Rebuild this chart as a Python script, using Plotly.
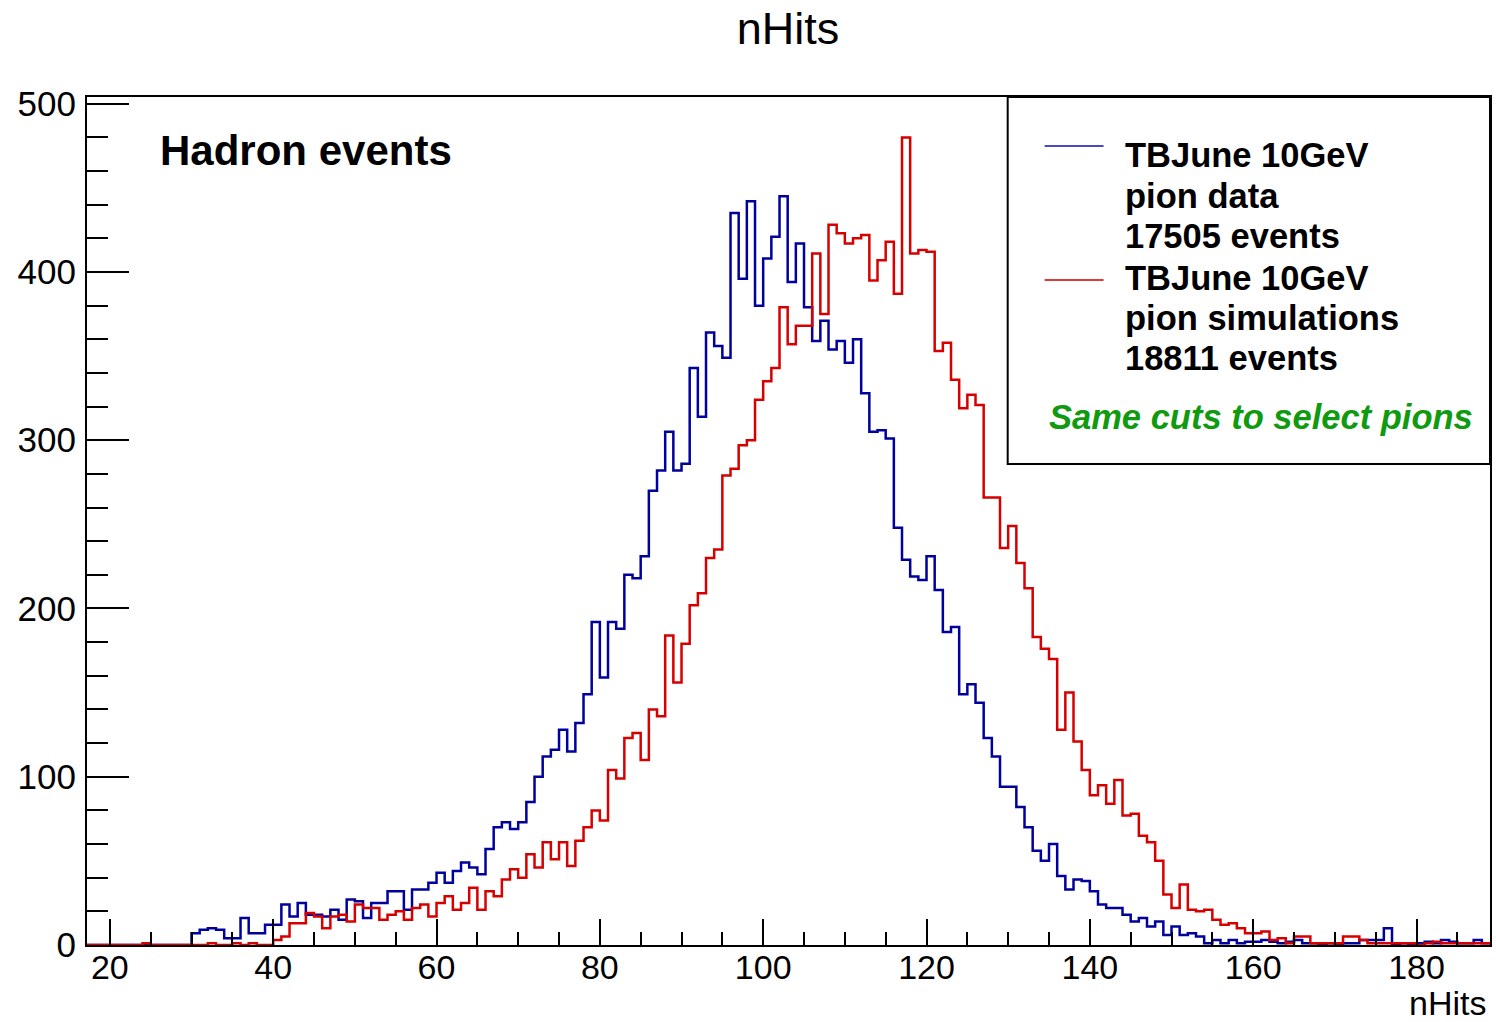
import plotly.graph_objects as go

# ---------------- data (1 nHits per bin, lower edges 17..188) ----------------
bin_lower_edges = list(range(17, 189))
bin_width = 1

blue_counts = (
    [0] * 13 +                                            # 17-29
    [7, 9, 10, 9, 4, 4, 16, 7, 7, 12] +                   # 30-39
    [12, 24, 17, 25, 18, 18, 17, 21, 15, 27] +            # 40-49
    [26, 16, 25, 25, 32, 32, 21, 33, 33, 37] +            # 50-59
    [43, 37, 44, 49, 46, 42, 57, 70, 73, 69] +            # 60-69
    [73, 85, 100, 112, 116, 128, 115, 132, 149, 192] +    # 70-79
    [159, 192, 188, 220, 218, 231, 270, 282, 305, 282] +  # 80-89
    [286, 343, 314, 364, 356, 349, 435, 396, 442, 380] +  # 90-99
    [408, 421, 445, 394, 417, 379, 359, 371, 354, 359] +  # 100-109
    [346, 360, 328, 305, 306, 301, 248, 229, 219, 217] +  # 110-119
    [231, 211, 186, 189, 149, 155, 144, 123, 112, 94] +   # 120-129
    [94, 82, 70, 56, 50, 60, 41, 33, 39, 38] +            # 130-139
    [32, 24, 22, 22, 18, 14, 16, 11, 14, 6] +             # 140-149
    [11, 6, 7, 5, 1, 3, 1, 3, 1, 2] +                     # 150-159
    [2, 3, 2, 1, 2, 3, 1, 1, 0, 1] +                      # 160-169
    [0, 1, 1, 3, 3, 3, 10, 0, 1, 0] +                     # 170-179
    [1, 2, 1, 3, 2, 1, 1, 3, 1]                           # 180-188
)

red_counts = (
    [0, 0, 0] +                                           # 17-19
    [0, 0, 0, 0, 1, 0, 0, 0, 0, 0] +                      # 20-29
    [0, 0, 1, 0, 0, 1, 0, 1, 0, 0] +                      # 30-39
    [3, 5, 13, 13, 19, 17, 10, 17, 18, 14] +              # 40-49
    [24, 22, 22, 15, 18, 20, 15, 22, 24, 17] +            # 50-59
    [25, 29, 21, 25, 34, 21, 32, 29, 39, 45] +            # 60-69
    [40, 54, 46, 61, 51, 61, 47, 62, 70, 80] +            # 70-79
    [74, 104, 99, 123, 126, 110, 140, 136, 184, 156] +    # 80-89
    [179, 202, 209, 230, 235, 279, 283, 297, 300, 324] +  # 90-99
    [335, 343, 379, 357, 368, 368, 411, 375, 428, 423] +  # 100-109
    [417, 420, 422, 395, 407, 418, 387, 480, 411, 413] +  # 110-119
    [412, 353, 358, 336, 319, 327, 321, 266, 266, 236] +  # 120-129
    [249, 227, 212, 183, 176, 170, 128, 150, 121, 104] +  # 130-139
    [89, 95, 84, 98, 77, 78, 65, 61, 50, 30] +            # 140-149
    [22, 36, 21, 20, 21, 15, 12, 13, 10, 7] +             # 150-159
    [7, 8, 3, 4, 1, 5, 5, 1, 1, 1] +                      # 160-169
    [1, 5, 5, 3, 1, 1, 1, 1, 1, 1] +                      # 170-179
    [0, 1, 2, 1, 1, 1, 1, 1, 1]                           # 180-188
)

x_tick_values = [20, 40, 60, 80, 100, 120, 140, 160, 180]
y_tick_values = [0, 100, 200, 300, 400, 500]
x_range = [17.2, 189.0]
y_range = [0, 504]

legend_blue_lines = ["TBJune 10GeV", "pion data", "17505 events"]
legend_red_lines = ["TBJune 10GeV", "pion simulations", "18811 events"]
cuts_note = "Same cuts to select pions"
plot_label = "Hadron events"

BLUE = "#00009c"
RED = "#d60000"
GREEN = "#109a10"
FONT = "Liberation Sans, Arial, Helvetica, sans-serif"

# step outline
edges = bin_lower_edges + [bin_lower_edges[-1] + bin_width]


def step_y(vals):
    return list(vals) + [vals[-1]]


fig = go.Figure()
fig.add_trace(go.Scatter(x=edges, y=step_y(blue_counts), mode="lines",
                         line=dict(color=BLUE, width=2.5, shape="hv"),
                         showlegend=False, hoverinfo="skip"))
fig.add_trace(go.Scatter(x=edges, y=step_y(red_counts), mode="lines",
                         line=dict(color=RED, width=2.5, shape="hv"),
                         showlegend=False, hoverinfo="skip"))

# ---------------- layout ----------------
L, R, T, B = 87, 4, 97, 77
W, H = 1496, 1022
pw, ph = W - L - R, H - T - B


def px_x(p):  # pixel -> paper x
    return (p - L) / pw


def px_y(p):  # pixel -> paper y
    return (H - B - p) / ph


fig.update_layout(
    width=W, height=H,
    margin=dict(l=L, r=R, t=T, b=B),
    paper_bgcolor="white", plot_bgcolor="white",
    font=dict(family=FONT, color="black", size=35),
    title=dict(text="nHits", x=788 / W, xanchor="center",
               y=1 - 28 / H, yanchor="middle",
               font=dict(family=FONT, size=45, color="black")),
    xaxis=dict(range=x_range, showgrid=False, zeroline=False,
               showline=True, linecolor="black", linewidth=2, mirror=True,
               tickmode="array", tickvals=x_tick_values,
               ticks="inside", ticklen=26, tickwidth=2, tickcolor="black",
               ticklabelstandoff=-9,
               tickfont=dict(family=FONT, size=34, color="black"),
               minor=dict(tickmode="linear", tick0=0, dtick=5, ticks="inside",
                          ticklen=13, tickwidth=2, tickcolor="black",
                          showgrid=False)),
    yaxis=dict(range=y_range, showgrid=False, zeroline=False,
               showline=True, linecolor="black", linewidth=2, mirror=True,
               tickmode="array", tickvals=y_tick_values,
               ticks="inside", ticklen=42, tickwidth=2, tickcolor="black",
               ticklabelstandoff=2,
               tickfont=dict(family=FONT, size=35, color="black"),
               minor=dict(tickmode="linear", tick0=0, dtick=20, ticks="inside",
                          ticklen=21, tickwidth=2, tickcolor="black",
                          showgrid=False)),
)

annotations = []
# x axis title
annotations.append(dict(text="nHits", xref="paper", yref="paper",
                        x=px_x(1490), y=px_y(1003), xanchor="right", yanchor="middle",
                        showarrow=False, font=dict(family=FONT, size=34, color="black")))
# Hadron events
annotations.append(dict(text="<b>%s</b>" % plot_label, xref="paper", yref="paper",
                        x=px_x(158), y=px_y(151), xanchor="left", yanchor="middle",
                        showarrow=False, font=dict(family=FONT, size=42, color="black")))

# legend box
shapes = [dict(type="rect", xref="paper", yref="paper",
               x0=px_x(1009), x1=1.0, y0=px_y(464), y1=1.0,
               line=dict(color="black", width=2), fillcolor="white", layer="above")]
shapes.append(dict(type="line", xref="paper", yref="paper",
                   x0=px_x(1046), x1=px_x(1105), y0=px_y(146), y1=px_y(146),
                   line=dict(color="#4a4ac4", width=2), layer="above"))
shapes.append(dict(type="line", xref="paper", yref="paper",
                   x0=px_x(1046), x1=px_x(1105), y0=px_y(280), y1=px_y(280),
                   line=dict(color="#dd3a3a", width=2), layer="above"))

line_ys_blue = [155, 196, 236]
line_ys_red = [278, 318, 358]
for txt, yy in zip(legend_blue_lines + legend_red_lines, line_ys_blue + line_ys_red):
    annotations.append(dict(text="<b>%s</b>" % txt, xref="paper", yref="paper",
                            x=px_x(1124), y=px_y(yy), xanchor="left", yanchor="middle",
                            showarrow=False, font=dict(family=FONT, size=34.5, color="black")))
annotations.append(dict(text="<b><i>%s</i></b>" % cuts_note, xref="paper", yref="paper",
                        x=px_x(1263), y=px_y(417), xanchor="center", yanchor="middle",
                        showarrow=False, font=dict(family=FONT, size=34.5, color=GREEN)))

fig.update_layout(shapes=shapes, annotations=annotations)
fig.write_html("out.html",
               config={"displayModeBar": False},
               post_script="document.body.style.margin='0';document.body.style.padding='0';"
                           "document.body.style.overflow='hidden';")
